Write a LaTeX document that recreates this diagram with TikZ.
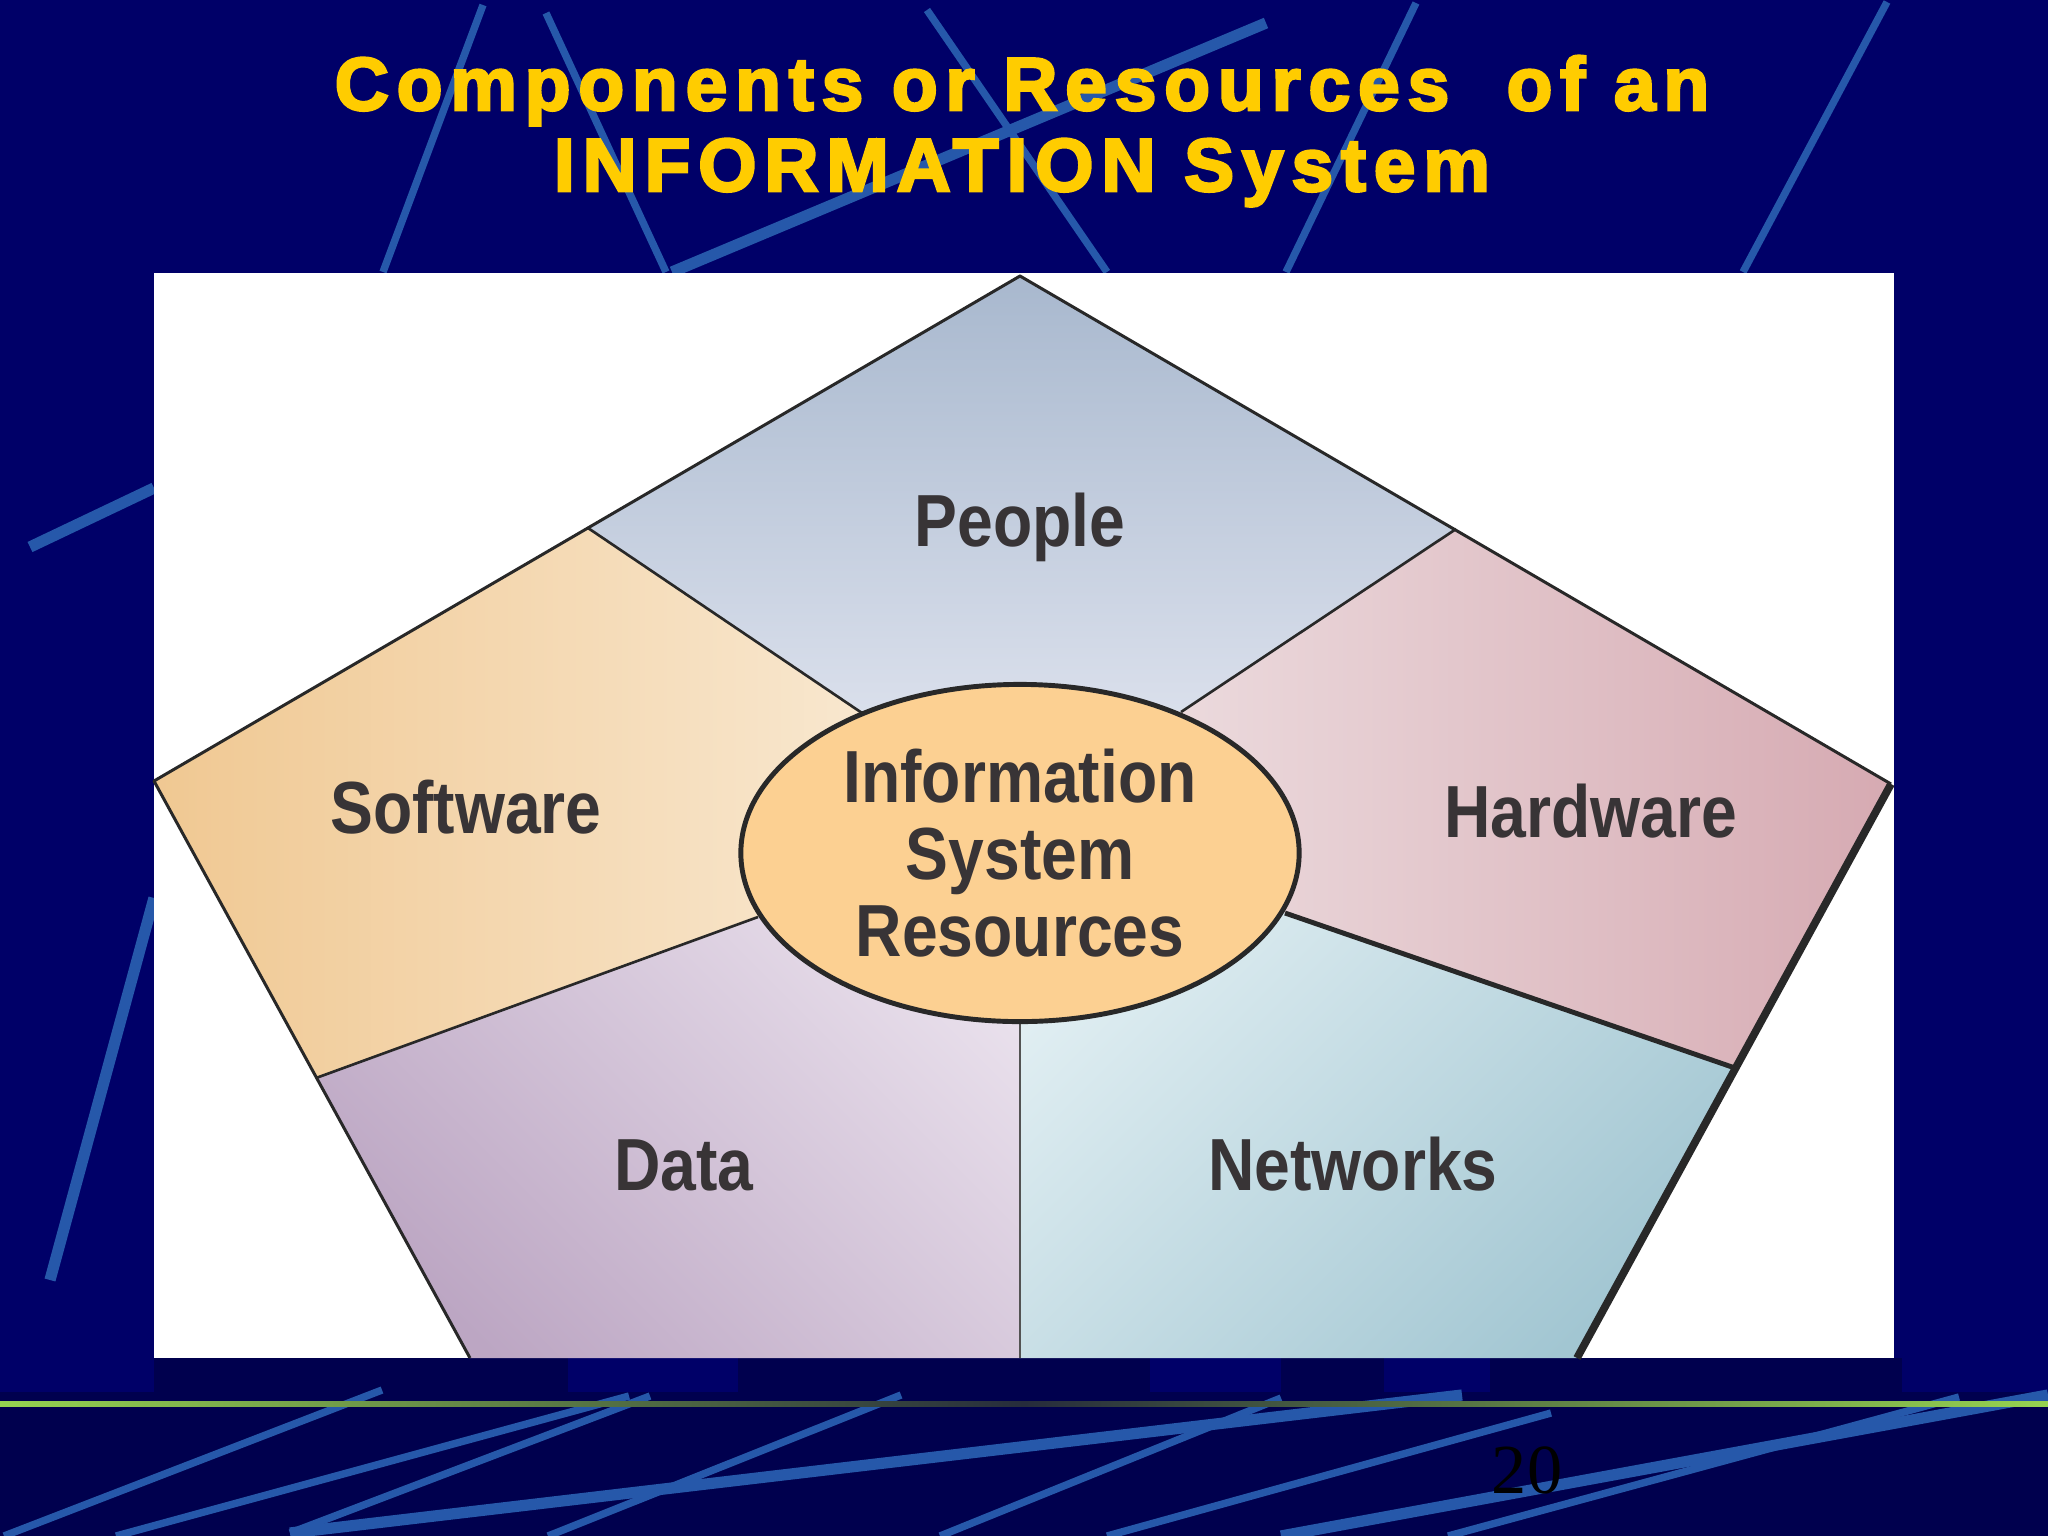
\documentclass[tikz,border=0pt]{standalone}
\usepackage{fontspec}
\setmainfont{Liberation Sans}
\newfontfamily\titlefont[LetterSpace=10.5,FakeBold=3.5]{Liberation Sans Bold}
\newfontfamily\labelfont[FakeStretch=0.87]{Liberation Sans Bold}
\newfontfamily\numfont{Liberation Serif}
\usetikzlibrary{shapes.geometric}
\definecolor{navy}{RGB}{0,0,104}
\definecolor{darknavy}{RGB}{0,0,78}
\definecolor{stripe}{RGB}{38,88,170}
\definecolor{titleyellow}{RGB}{255,204,0}
\definecolor{labgray}{RGB}{56,52,54}
\definecolor{edgecol}{RGB}{40,40,40}
\definecolor{peopleTop}{RGB}{168,184,206}
\definecolor{peopleBot}{RGB}{234,236,245}
\definecolor{softL}{RGB}{240,200,146}
\definecolor{softR}{RGB}{250,238,220}
\definecolor{hardL}{RGB}{240,228,230}
\definecolor{hardR}{RGB}{214,170,178}
\definecolor{dataDark}{RGB}{188,166,195}
\definecolor{dataLight}{RGB}{233,224,236}
\definecolor{netLight}{RGB}{224,238,242}
\definecolor{netDark}{RGB}{162,198,210}
\definecolor{ellfill}{RGB}{252,208,146}
\definecolor{lime}{RGB}{150,212,80}
\definecolor{limemid}{RGB}{38,44,60}
\begin{document}
\begin{tikzpicture}[x=0.01cm,y=-0.01cm,
  thinstripe/.style={draw=stripe,line width=2.1pt},
  thickstripe/.style={draw=stripe,line width=3.2pt},
  lab/.style={font=\labelfont\fontsize{21}{24}\selectfont,text=labgray,inner sep=0pt,anchor=base},
  titletext/.style={font=\titlefont\fontsize{21.3}{24}\selectfont,text=titleyellow,inner sep=0pt,anchor=base},
  divline/.style={draw=edgecol,line width=0.75pt},
  outline/.style={draw=edgecol,line width=0.85pt,line join=round}]
\useasboundingbox (0,0) rectangle (2048,1536);
% background
\fill[navy] (0,0) rectangle (2048,1536);
\fill[darknavy] (0,1358) rectangle (2048,1536);
\foreach \a/\b in {0/154,568/738,1150/1281,1384/1490,1902/2048}
  \fill[navy] (\a,1358) rectangle (\b,1392);
% top stripes
\draw[thinstripe] (483,5) -- (383,272);
\draw[thinstripe] (546,13) -- (666,272);
\draw[thinstripe] (927,10) -- (1107,272);
\draw[thickstripe] (1266,23) -- (672,272);
\draw[thinstripe] (1416,3) -- (1286,272);
\draw[thinstripe] (1887,2) -- (1743,272);
% left stripes
\draw[thickstripe] (30,547) -- (154,488);
\draw[thickstripe] (50,1280) -- (154,898);
% bottom stripes
\draw[thinstripe] (382,1390) -- (4,1536);
\draw[thinstripe] (629,1396) -- (116,1536);
\draw[thinstripe] (650,1396) -- (290,1533);
\draw[thickstripe] (1462,1395) -- (290,1533);
\draw[thinstripe] (901,1395) -- (548,1536);
\draw[thinstripe] (1281,1398) -- (940,1536);
\draw[thinstripe] (1551,1413) -- (1107,1536);
\draw[thinstripe] (1959,1397) -- (1448,1536);
\draw[thickstripe] (2048,1395) -- (1281,1536);
% green rule
\shade[left color=lime,right color=lime,middle color=limemid] (0,1401) rectangle (2048,1406);
% page number
\node[font=\numfont\fontsize{20}{24}\selectfont,text=black,inner sep=0pt,anchor=base] (pagenum) at (1527,1493) {20};
% white picture box
\fill[white] (154,273) rectangle (1894,1358);
% key points
\coordinate (T) at (1020,276);
\coordinate (L) at (154,781);
\coordinate (R) at (1891,784);
\coordinate (BL) at (470,1358);
\coordinate (BR) at (1577,1358);
\coordinate (PL) at (588,528);
\coordinate (PR) at (1456,529);
\coordinate (SD) at (316,1078);
\coordinate (HN) at (1735,1068);
\coordinate (BM) at (1020,1358);
\coordinate (C) at (1020,853);
\coordinate (ePL) at (862,713);
\coordinate (ePR) at (1181,712);
\coordinate (eSD) at (758,917);
\coordinate (eHN) at (1285,913);
\coordinate (eDN) at (1020,1022);
% regions
\shade[top color=peopleTop,bottom color=peopleBot] (PL) -- (T) -- (PR) -- (ePR) -- (C) -- (ePL) -- cycle;
\shade[left color=softL,right color=softR] (L) -- (PL) -- (ePL) -- (C) -- (eSD) -- (SD) -- cycle;
\shade[left color=hardL,right color=hardR] (PR) -- (R) -- (HN) -- (eHN) -- (C) -- (ePR) -- cycle;
\shade[top color=dataLight,bottom color=dataDark,shading angle=-45] (eSD) -- (C) -- (eDN) -- (BM) -- (BL) -- (SD) -- cycle;
\shade[top color=netLight,bottom color=netDark,shading angle=45] (eHN) -- (HN) -- (BR) -- (BM) -- (eDN) -- (C) -- cycle;
% division lines
\draw[divline] (PL) -- (ePL);
\draw[divline] (PR) -- (ePR);
\draw[divline] (SD) -- (eSD);
\draw[draw=edgecol,line width=1.4pt] (HN) -- (eHN);
\draw[draw=edgecol!80,line width=0.6pt] (eDN) -- (BM);
% outline
\draw[outline] (BL) -- (L) -- (T) -- (R);
\draw[draw=edgecol,line width=2.2pt] (R) -- (BR);
% centre ellipse
\node[ellipse,draw=edgecol,line width=1.4pt,fill=ellfill,minimum width=5.58cm,minimum height=3.37cm,inner sep=0pt,
  align=center,font=\labelfont\fontsize{21}{21.9}\selectfont,text=labgray] (core) at (C) {Information\\System\\Resources};
% labels
\node[lab] (people) at (1020,546) {People};
\node[lab] (software) at (466,833) {Software};
\node[lab] (hardware) at (1591,837) {Hardware};
\node[lab] (data) at (684,1190) {Data};
\node[lab] (networks) at (1353,1190) {Networks};
% title
\node[titletext] (title1) at (1022,110) {Components or Resources\ \ of an};
\node[titletext] (title2) at (1022,191) {INFORMATION System};
\end{tikzpicture}
\end{document}
